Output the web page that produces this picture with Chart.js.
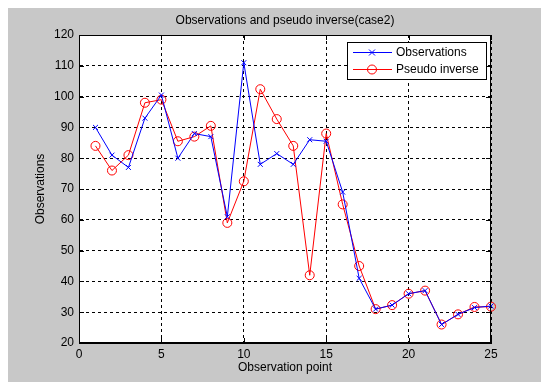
<!DOCTYPE html>
<html>
<head>
<meta charset="utf-8">
<script src="https://cdn.jsdelivr.net/npm/chart.js@4.4.0/dist/chart.umd.min.js"></script>
<style>
  html, body { margin: 0; padding: 0; background: #fff; }
  canvas { display: block; }
</style>
</head>
<body>
<canvas id="chart" width="541" height="382"></canvas>
<script>
const points = [1, 2, 3, 4, 5, 6, 7, 8, 9, 10, 11, 12, 13, 14, 15, 16, 17, 18, 19, 20, 21, 22, 23, 24, 25];
const observations = [90, 81, 77, 93, 100.5, 80, 88, 87, 61, 111, 78, 81.5, 78, 86, 85.5, 69, 41, 31, 32.3, 36, 37, 26, 29.3, 31.5, 32];
const pseudoInverse = [84, 76, 81, 98, 99, 85.5, 87, 90.5, 59, 72.5, 102.4, 92.7, 84, 42, 88, 65, 45, 31, 32.3, 36, 37, 26, 29.3, 31.7, 31.8];
const xTicks = [0, 5, 10, 15, 20, 25];
const yTicks = [20, 30, 40, 50, 60, 70, 80, 90, 100, 110, 120];

const titleText = 'Observations and pseudo inverse(case2)';
const FONT = '"Liberation Sans", Arial, sans-serif';

function toPoints(ys) {
    return points.map((x, i) => ({ x: x, y: ys[i] }));
}

function marker(ctx, style, x, y) {
    ctx.beginPath();
    if (style === 'circle') {
        ctx.arc(x, y, 4.5, 0, Math.PI * 2);
    } else {
        ctx.moveTo(x - 3, y - 3); ctx.lineTo(x + 3, y + 3);
        ctx.moveTo(x + 3, y - 3); ctx.lineTo(x - 3, y + 3);
    }
    ctx.stroke();
}

// grey figure background, white axes box, frame, inward ticks, title and legend
const figure = {
    id: 'figure',
    beforeDraw(chart) {
        const ctx = chart.ctx;
        const a = chart.chartArea;
        ctx.save();
        ctx.fillStyle = '#c8c8c8';
        ctx.fillRect(8, 8, chart.width - 8, chart.height - 8);
        ctx.fillStyle = '#fff';
        ctx.fillRect(a.left, a.top, a.right - a.left, a.bottom - a.top);
        ctx.restore();
    },
    afterDraw(chart) {
        const ctx = chart.ctx;
        const a = chart.chartArea;
        const xs = chart.scales.x, ys = chart.scales.y;
        ctx.save();
        ctx.strokeStyle = '#000';
        ctx.lineWidth = 1;
        ctx.strokeRect(a.left + 0.5, a.top + 0.5, a.right - a.left - 1, a.bottom - a.top - 1);

        ctx.beginPath();
        xTicks.forEach(v => {
            const px = Math.round(xs.getPixelForValue(v)) + 0.5;
            ctx.moveTo(px, a.bottom); ctx.lineTo(px, a.bottom - 5);
            ctx.moveTo(px, a.top); ctx.lineTo(px, a.top + 5);
        });
        yTicks.forEach(v => {
            const py = Math.round(ys.getPixelForValue(v)) + 0.5;
            ctx.moveTo(a.left, py); ctx.lineTo(a.left + 5, py);
            ctx.moveTo(a.right, py); ctx.lineTo(a.right - 5, py);
        });
        ctx.stroke();

        ctx.fillStyle = '#000';
        ctx.font = '12px ' + FONT;
        ctx.textAlign = 'center';
        ctx.textBaseline = 'middle';
        ctx.fillText(titleText, (a.left + a.right) / 2, 21);

        // legend box, top right inside the axes
        const lx = 347, ly = 42, lw = 139, lh = 37;
        ctx.fillStyle = '#fff';
        ctx.fillRect(lx, ly, lw, lh);
        ctx.strokeRect(lx + 0.5, ly + 0.5, lw, lh);
        chart.data.datasets.forEach((ds, i) => {
            const y = ly + 10 + i * 17;
            ctx.strokeStyle = ds.borderColor;
            ctx.beginPath();
            ctx.moveTo(lx + 6, y + 0.5); ctx.lineTo(lx + 45, y + 0.5);
            ctx.stroke();
            marker(ctx, ds.markerStyle, lx + 25, y + 0.5);
            ctx.fillStyle = '#000';
            ctx.textAlign = 'left';
            ctx.fillText(ds.label, lx + 49, y + 1);
        });
        ctx.restore();
    }
};

const grid = {
    color: '#000',
    lineWidth: 1,
    drawTicks: false
};

new Chart(document.getElementById('chart'), {
    type: 'line',
    plugins: [figure],
    data: {
        datasets: [{
            label: 'Observations',
            data: toPoints(observations),
            borderColor: '#0000ff',
            borderWidth: 1,
            pointStyle: 'crossRot',
            pointRadius: 3.5,
            pointBorderColor: '#0000ff',
            pointBorderWidth: 1,
            markerStyle: 'cross',
            fill: false,
            tension: 0,
            clip: false
        }, {
            label: 'Pseudo inverse',
            data: toPoints(pseudoInverse),
            borderColor: '#ff0000',
            borderWidth: 1,
            pointStyle: 'circle',
            pointRadius: 4.5,
            pointBorderColor: '#ff0000',
            pointBackgroundColor: 'rgba(0,0,0,0)',
            pointBorderWidth: 1,
            markerStyle: 'circle',
            fill: false,
            tension: 0,
            clip: false
        }]
    },
    options: {
        responsive: false,
        animation: false,
        events: [],
        layout: { padding: { top: 35, right: 50, left: 0, bottom: 0 } },
        plugins: {
            legend: { display: false },
            title: { display: false },
            tooltip: { enabled: false }
        },
        scales: {
            x: {
                type: 'linear',
                min: 0,
                max: 25,
                afterBuildTicks: axis => { axis.ticks = xTicks.map(v => ({ value: v })); },
                afterFit: axis => { axis.height = 39; },
                grid: grid,
                border: { display: true, color: '#000', dash: [3, 3] },
                ticks: {
                    color: '#000',
                    padding: 4,
                    maxRotation: 0,
                    font: { family: FONT, size: 12 }
                },
                title: {
                    display: true,
                    text: 'Observation point',
                    color: '#000',
                    padding: { top: 0, bottom: 7 },
                    font: { family: FONT, size: 12 }
                }
            },
            y: {
                min: 20,
                max: 120,
                afterBuildTicks: axis => { axis.ticks = yTicks.map(v => ({ value: v })); },
                afterFit: axis => { axis.width = 79; },
                grid: grid,
                border: { display: true, color: '#000', dash: [3, 3] },
                ticks: {
                    color: '#000',
                    padding: 5,
                    font: { family: FONT, size: 12 }
                },
                title: {
                    display: true,
                    text: 'Observations',
                    color: '#000',
                    padding: { top: 33, bottom: 0 },
                    font: { family: FONT, size: 12 }
                }
            }
        }
    }
});
</script>
</body>
</html>
